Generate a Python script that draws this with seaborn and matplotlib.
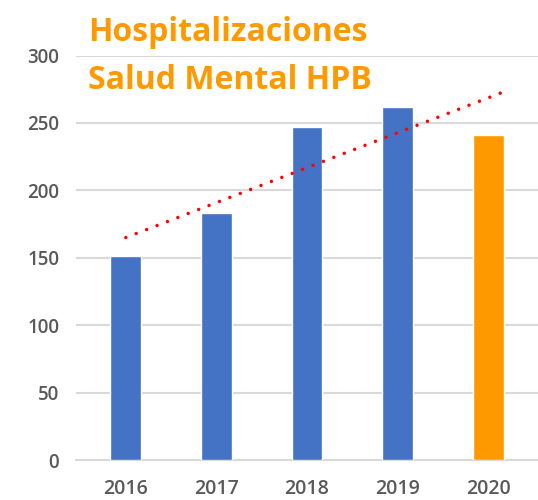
import numpy as np
import pandas as pd
import matplotlib
matplotlib.use("Agg")
import matplotlib.pyplot as plt
import seaborn as sns

# Data
years = ["2016", "2017", "2018", "2019", "2020"]
hospitalizations = [151, 183, 247, 262, 241]
bar_colors = ["#4472C4", "#4472C4", "#4472C4", "#4472C4", "#FF9900"]
y_ticks = [0, 50, 100, 150, 200, 250, 300]
title_lines = ["Hospitalizaciones", "Salud Mental HPB"]

sns.set_theme(style="white")
plt.rcParams["font.family"] = ["Open Sans", "DejaVu Sans"]

df = pd.DataFrame({"year": years, "value": hospitalizations})

fig = plt.figure(figsize=(5.38, 5.0), dpi=100)
ax = fig.add_axes([76 / 538, 40 / 500, 1 - 76 / 538, (460 - 55.5) / 500])

sns.barplot(data=df, x="year", y="value", hue="year", palette=bar_colors,
            legend=False, width=0.34, saturation=1, ax=ax, zorder=3)

# Linear trend over all years, carried slightly past the last bar
xs = np.arange(len(years))
slope, intercept = np.polyfit(xs, hospitalizations, 1)
tx = np.array([0, len(years) - 1 + 0.18])
ax.plot(tx, intercept + slope * tx, color="#FF0000", linewidth=2.5,
        linestyle=(0, (0.01, 3.2)), dash_capstyle="round", zorder=4)

ax.set_ylim(0, 300)
ax.set_xlim(-0.55, len(years) - 0.45)
ax.set_yticks(y_ticks)
ax.set_yticklabels([str(t) for t in y_ticks])
ax.yaxis.grid(True, color="#D9D9D9", linewidth=1.5, zorder=0)
ax.set_axisbelow(True)
for s in ["top", "right", "left"]:
    ax.spines[s].set_visible(False)
ax.spines["bottom"].set_color("#D9D9D9")
ax.spines["bottom"].set_linewidth(1.5)
ax.tick_params(axis="y", length=0, pad=12, labelsize=13.5, labelcolor="#595959")
ax.tick_params(axis="x", length=0, pad=14, labelsize=14, labelcolor="#595959")
for lbl in ax.get_xticklabels() + ax.get_yticklabels():
    lbl.set_fontweight("semibold")
ax.set_xlabel("")
ax.set_ylabel("")

fig.text(88 / 538, 1 - 41 / 500, title_lines[0], color="#FF9900",
         fontsize=23, fontweight="bold", ha="left", va="baseline")
fig.text(88 / 538, 1 - 89 / 500, title_lines[1], color="#FF9900",
         fontsize=23, fontweight="bold", ha="left", va="baseline")

fig.savefig("out.png", dpi=100)
